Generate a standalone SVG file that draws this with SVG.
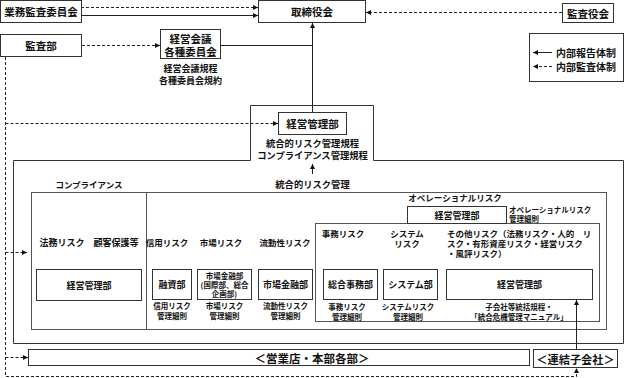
<svg xmlns="http://www.w3.org/2000/svg" width="625" height="378" viewBox="0 0 625 378">
<defs>
<marker id="ah" viewBox="0 0 6 6" refX="6" refY="3" markerWidth="5" markerHeight="5" orient="auto" markerUnits="userSpaceOnUse">
<path d="M0,0 L6,3 L0,6 z" fill="#111"/>
</marker>
</defs>
<style>
.b{fill:#fff;stroke:#333;stroke-width:1}
.o{fill:none;stroke:#333;stroke-width:1}
.g{fill:none;stroke:#555;stroke-width:1}
.t{font-family:"Noto Sans CJK JP","Noto Sans CJK SC",sans-serif;font-weight:bold;fill:#111;text-anchor:middle;dominant-baseline:central}
.l{text-anchor:start}
.f105{font-size:10.5px}
.f9{font-size:9px}
.f8{font-size:8px}
.f75{font-size:7.5px}
.f85{font-size:8.5px}
.s{stroke:#222;stroke-width:1;fill:none}
.d{stroke:#222;stroke-width:1;fill:none;stroke-dasharray:3,2}
</style>
<rect width="625" height="378" fill="#fff"/>

<g id="containers">
<path class="o" d="M13.5,160.5 H250.5 V105.5 H373.5 V160.5 H623.5 V343.5 H13.5 Z"/>
<rect class="g" x="31.5" y="192.5" width="575" height="137"/>
<line class="g" x1="146.5" y1="192.5" x2="146.5" y2="329.5"/>
<rect class="g" x="315.5" y="223.5" width="284" height="98"/>
</g>

<g id="legend">
<rect class="b" x="529.5" y="33.5" width="94" height="48"/>
<line class="s" x1="552" y1="52.5" x2="533" y2="52.5" marker-end="url(#ah)"/>
<line class="d" x1="552" y1="66.5" x2="533" y2="66.5" marker-end="url(#ah)"/>
<text class="t l" x="556" y="52.5" font-size="10">内部報告体制</text>
<text class="t l" x="556" y="66.5" font-size="10">内部監査体制</text>
</g>

<g id="connectors">
<line class="d" x1="81" y1="7.5" x2="258" y2="7.5" marker-end="url(#ah)"/>
<line class="s" x1="81" y1="15.5" x2="258" y2="15.5" marker-end="url(#ah)"/>
<line class="d" x1="562" y1="12.5" x2="366" y2="12.5" marker-end="url(#ah)"/>
<line class="d" x1="82" y1="45.5" x2="160" y2="45.5" marker-end="url(#ah)"/>
<line class="s" x1="221" y1="45.5" x2="312.5" y2="45.5"/>
<line class="s" x1="312.5" y1="112" x2="312.5" y2="23" marker-end="url(#ah)"/>
<path class="d" d="M5.5,57 V376.5 H576.5 V368" marker-end="url(#ah)"/>
<line class="d" x1="5.5" y1="123.5" x2="278" y2="123.5" marker-end="url(#ah)"/>
<line class="d" x1="5.5" y1="252.5" x2="27" y2="252.5" marker-end="url(#ah)"/>
<line class="d" x1="5.5" y1="357.5" x2="28" y2="357.5" marker-end="url(#ah)"/>
<line class="s" x1="576.5" y1="349" x2="576.5" y2="300" marker-end="url(#ah)"/>
<line class="s" x1="312.5" y1="174" x2="312.5" y2="164" marker-end="url(#ah)"/>
</g>

<g id="gyomu">
<rect class="b" x="0.5" y="0.5" width="81" height="22"/>
<text class="t f105" x="41" y="11.5">業務監査委員会</text>
</g>
<g id="torishimari">
<rect class="b" x="258.5" y="0.5" width="107" height="22"/>
<text class="t f105" x="312" y="11.5">取締役会</text>
</g>
<g id="kansayaku">
<rect class="b" x="562.5" y="3.5" width="51" height="19"/>
<text class="t f105" x="588" y="13">監査役会</text>
</g>
<g id="kansabu">
<rect class="b" x="0.5" y="34.5" width="81" height="22"/>
<text class="t f105" x="41" y="45.5">監査部</text>
</g>
<g id="keiei-kaigi">
<rect class="b" x="160.5" y="29.5" width="60" height="29"/>
<text class="t f105" x="190.5" y="38">経営会議</text>
<text class="t f105" x="190.5" y="51">各種委員会</text>
<text class="t f9" x="190.5" y="68">経営会議規程</text>
<text class="t f9" x="190.5" y="80">各種委員会規約</text>
</g>
<g id="keiei-kanri-top">
<rect class="b" x="278.5" y="112.5" width="68" height="22"/>
<text class="t f105" x="312.5" y="123.5">経営管理部</text>
<text class="t" font-size="9.3" x="312.5" y="143">統合的リスク管理規程</text>
<text class="t" font-size="9.3" x="312.5" y="155">コンプライアンス管理規程</text>
<text class="t" font-size="9.3" x="312.5" y="184">統合的リスク管理</text>
</g>

<g id="compliance">
<text class="t f85" x="89" y="184">コンプライアンス</text>
<text class="t f9" x="89" y="242">法務リスク　顧客保護等</text>
<rect class="b" x="36.5" y="269.5" width="105" height="31"/>
<text class="t f9" x="89" y="285">経営管理部</text>
</g>

<g id="credit">
<text class="t f85" x="167" y="242">信用リスク</text>
<rect class="b" x="152.5" y="269.5" width="39" height="30"/>
<text class="t f9" x="172" y="284.5">融資部</text>
<text class="t f75" x="172" y="305.5">信用リスク</text>
<text class="t f75" x="172" y="315">管理細則</text>
</g>
<g id="market">
<text class="t f85" x="221" y="242">市場リスク</text>
<rect class="b" x="197.5" y="269.5" width="54" height="30"/>
<text class="t f75" x="224.5" y="275.5">市場金融部</text>
<text class="t f75" x="224.5" y="284.5">(国際部、総合</text>
<text class="t f75" x="224.5" y="293.5">企画部)</text>
<text class="t f75" x="224.5" y="305.5">市場リスク</text>
<text class="t f75" x="224.5" y="315">管理細則</text>
</g>
<g id="liquidity">
<text class="t f85" x="285" y="242">流動性リスク</text>
<rect class="b" x="258.5" y="269.5" width="54" height="30"/>
<text class="t f9" x="285.5" y="284.5">市場金融部</text>
<text class="t f75" x="285.5" y="305.5">流動性リスク</text>
<text class="t f75" x="285.5" y="315">管理細則</text>
</g>

<g id="operational">
<text class="t f85" x="455" y="197">オペレーショナルリスク</text>
<rect class="b" x="407.5" y="206.5" width="99" height="17"/>
<text class="t f9" x="457" y="215">経営管理部</text>
<text class="t f75 l" x="509" y="209">オペレーショナルリスク</text>
<text class="t f75 l" x="509" y="218">管理細則</text>
</g>
<g id="jimu">
<text class="t f85" x="343" y="233">事務リスク</text>
<rect class="b" x="323.5" y="269.5" width="54" height="30"/>
<text class="t f9" x="350.5" y="284.5">総合事務部</text>
<text class="t f75" x="347" y="306.5">事務リスク</text>
<text class="t f75" x="347" y="316">管理細則</text>
</g>
<g id="system">
<text class="t f85" x="407" y="233">システム</text>
<text class="t f85" x="407" y="243">リスク</text>
<rect class="b" x="383.5" y="269.5" width="54" height="30"/>
<text class="t f9" x="410.5" y="284.5">システム部</text>
<text class="t f75" x="408" y="306.5">システムリスク</text>
<text class="t f75" x="408" y="316">管理細則</text>
</g>
<g id="other">
<text class="t f85 l" x="447" y="233">その他リスク（法務リスク・人的　リ</text>
<text class="t f85 l" x="447" y="243">スク・有形資産リスク・経営リスク</text>
<text class="t f85 l" x="447" y="253">・風評リスク）</text>
<rect class="b" x="446.5" y="269.5" width="146" height="30"/>
<text class="t f9" x="519.5" y="284.5">経営管理部</text>
<text class="t f75" x="519" y="306.5">子会社等統括規程・</text>
<text class="t f75" x="519" y="316">「統合危機管理マニュアル」</text>
</g>

<g id="eigyoten">
<rect class="b" x="28.5" y="349.5" width="501" height="16"/>
<text class="t" font-size="11.5" x="312" y="357.5">＜営業店・本部各部＞</text>
</g>
<g id="renketsu">
<rect class="b" x="533.5" y="349.5" width="84" height="18"/>
<text class="t" font-size="11.2" x="575.5" y="358.5">＜連結子会社＞</text>
</g>
</svg>
